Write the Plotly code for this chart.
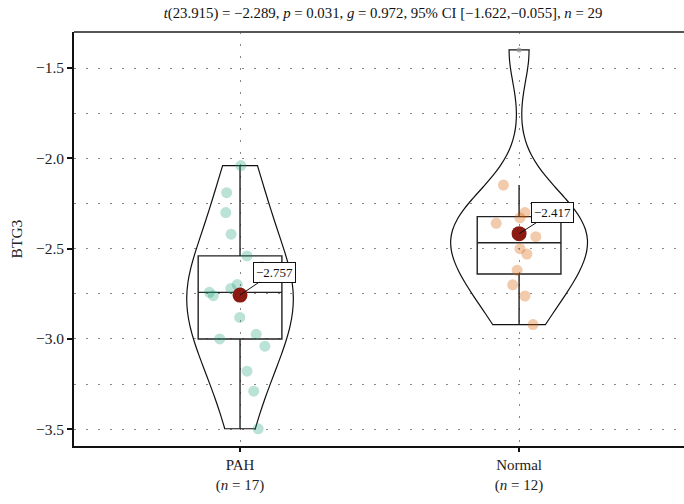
import numpy as np
import plotly.graph_objects as go

# BTG3 expression per group
groups = ["PAH", "Normal"]
pah_values = [-3.497, -3.289, -3.178, -3.04, -3.00, -2.974, -2.881, -2.76, -2.742,
              -2.72, -2.699, -2.60, -2.54, -2.42, -2.30, -2.19, -2.04]
normal_values = [-2.92, -2.762, -2.70, -2.62, -2.53, -2.50, -2.434, -2.36, -2.33,
                 -2.30, -2.148, -1.40]
# horizontal jitter of the raw points (category units)
pah_jitter = [0.065, 0.049, 0.025, 0.089, -0.073, 0.058, -0.001, -0.096, -0.110,
              -0.033, -0.010, 0.080, 0.025, -0.032, -0.051, -0.048, 0.003]
normal_jitter = [0.050, 0.021, -0.023, -0.007, 0.028, 0.003, 0.060, -0.082, 0.003,
                 0.021, -0.056, 0.0]
point_colors = ["rgba(27,158,119,0.3)", "rgba(217,95,2,0.33)"]
violin_widths = [0.382, 0.49]
bw_adjust = 1.4
y_ticks = [-3.5, -3.0, -2.5, -2.0, -1.5]

title_text = ("<i>t</i>(23.915) = \u22122.289, <i>p</i> = 0.031, <i>g</i> = 0.972, "
              "95% CI [\u22121.622,\u22120.055], <i>n</i> = 29")

FONT = "Liberation Serif, DejaVu Serif, serif"
GRID_DASH = "1.6px,10.4px"

data = [pah_values, normal_values]
jitters = [pah_jitter, normal_jitter]


def nrd0(v):
    v = np.asarray(v)
    sd = np.std(v, ddof=1)
    q1, q3 = np.percentile(v, [25, 75])
    lo = min(sd, (q3 - q1) / 1.34)
    return 0.9 * lo * len(v) ** (-0.2)


def minus(s):
    return s.replace("-", "\u2212")


fig = go.Figure()

for i, vals in enumerate(data):
    vals = np.asarray(vals)
    fig.add_trace(go.Violin(
        x0=i, y=vals, spanmode="hard", bandwidth=bw_adjust * nrd0(vals),
        width=violin_widths[i], scalemode="width", points=False,
        fillcolor="rgba(0,0,0,0)", line=dict(color="#111111", width=1.2),
        box=dict(visible=False), meanline=dict(visible=False),
        hoverinfo="skip", showlegend=False,
    ))

for i, (vals, jit) in enumerate(zip(data, jitters)):
    vals = np.asarray(vals)
    q1, med, q3 = np.percentile(vals, [25, 50, 75])
    iqr = q3 - q1
    inside = (vals >= q1 - 1.5 * iqr) & (vals <= q3 + 1.5 * iqr)
    fig.add_trace(go.Box(
        x=[i], q1=[q1], median=[med], q3=[q3],
        lowerfence=[vals[inside].min()], upperfence=[vals[inside].max()],
        width=0.3, whiskerwidth=0, fillcolor="rgba(0,0,0,0)",
        line=dict(color="#222222", width=1.4), boxpoints=False,
        hoverinfo="skip", showlegend=False,
    ))
    jit = np.asarray(jit)
    fig.add_trace(go.Scatter(
        x=i + jit[inside], y=vals[inside], mode="markers",
        marker=dict(size=11, color=point_colors[i], line=dict(width=0)),
        hoverinfo="skip", showlegend=False,
    ))
    if (~inside).any():
        fig.add_trace(go.Scatter(
            x=[i] * int((~inside).sum()), y=vals[~inside], mode="markers",
            marker=dict(size=5, color="rgba(150,150,150,0.7)", line=dict(width=0)),
            hoverinfo="skip", showlegend=False,
        ))

means = [float(np.mean(v)) for v in data]
fig.add_trace(go.Scatter(
    x=[0, 1], y=means, mode="markers",
    marker=dict(size=15, color="#8B1A12", line=dict(width=0)),
    hoverinfo="skip", showlegend=False,
))

label_offsets = [(34, -23), (33, -21)]
for i, m in enumerate(means):
    ax, ay = label_offsets[i]
    fig.add_annotation(
        x=i, y=m, ax=ax, ay=ay, showarrow=True, arrowhead=0, arrowwidth=1,
        arrowcolor="#111111", standoff=0,
        text=minus(f"{m:.3f}"),
        font=dict(family=FONT, size=13, color="#111111"),
        bgcolor="white", bordercolor="#111111", borderwidth=1, borderpad=2,
    )

ticktext = [f"{g}<br>(<i>n</i> = {len(v)})" for g, v in zip(groups, data)]

fig.update_layout(
    width=684, height=504,
    margin=dict(l=74, r=0, t=32, b=58),
    paper_bgcolor="white", plot_bgcolor="white",
    font=dict(family=FONT, size=15, color="#222222"),
    title=dict(text=title_text, x=383 / 684, xanchor="center", y=1 - 13 / 504,
               yanchor="middle", font=dict(family=FONT, size=14.8, color="#111111")),
    xaxis=dict(
        range=[-0.595, 1.591], tickmode="array", tickvals=[0, 1], ticktext=ticktext,
        showline=True, linecolor="#111111", linewidth=2, ticks="outside",
        ticklen=4, tickwidth=1.5, tickcolor="#111111",
        showgrid=True, gridcolor="#888888", gridwidth=1.4, griddash=GRID_DASH,
        zeroline=False, tickfont=dict(family=FONT, size=15, color="#222222"),
    ),
    yaxis=dict(
        range=[-3.5924, -1.3007], tickmode="array", tickvals=y_ticks,
        ticktext=[minus(f"{t:.1f}") for t in y_ticks],
        showline=True, linecolor="#111111", linewidth=1.6,
        ticks="outside", ticklen=5, tickwidth=1.5, tickcolor="#111111",
        showgrid=True, gridcolor="#888888", gridwidth=1.4, griddash=GRID_DASH,
        minor=dict(tickmode="linear", tick0=-3.5, dtick=0.25, showgrid=True,
                   gridcolor="#888888", gridwidth=1.4, griddash=GRID_DASH, ticks=""),
        zeroline=False, tickfont=dict(family=FONT, size=15.5, color="#222222"),
        title=dict(text="BTG3", standoff=10, font=dict(family=FONT, size=15.5)),
    ),
    shapes=[dict(type="line", xref="paper", yref="paper", x0=0, x1=1, y0=1, y1=1,
                 line=dict(color="#555555", width=2.2))],
)

fig.write_html("out.html")
